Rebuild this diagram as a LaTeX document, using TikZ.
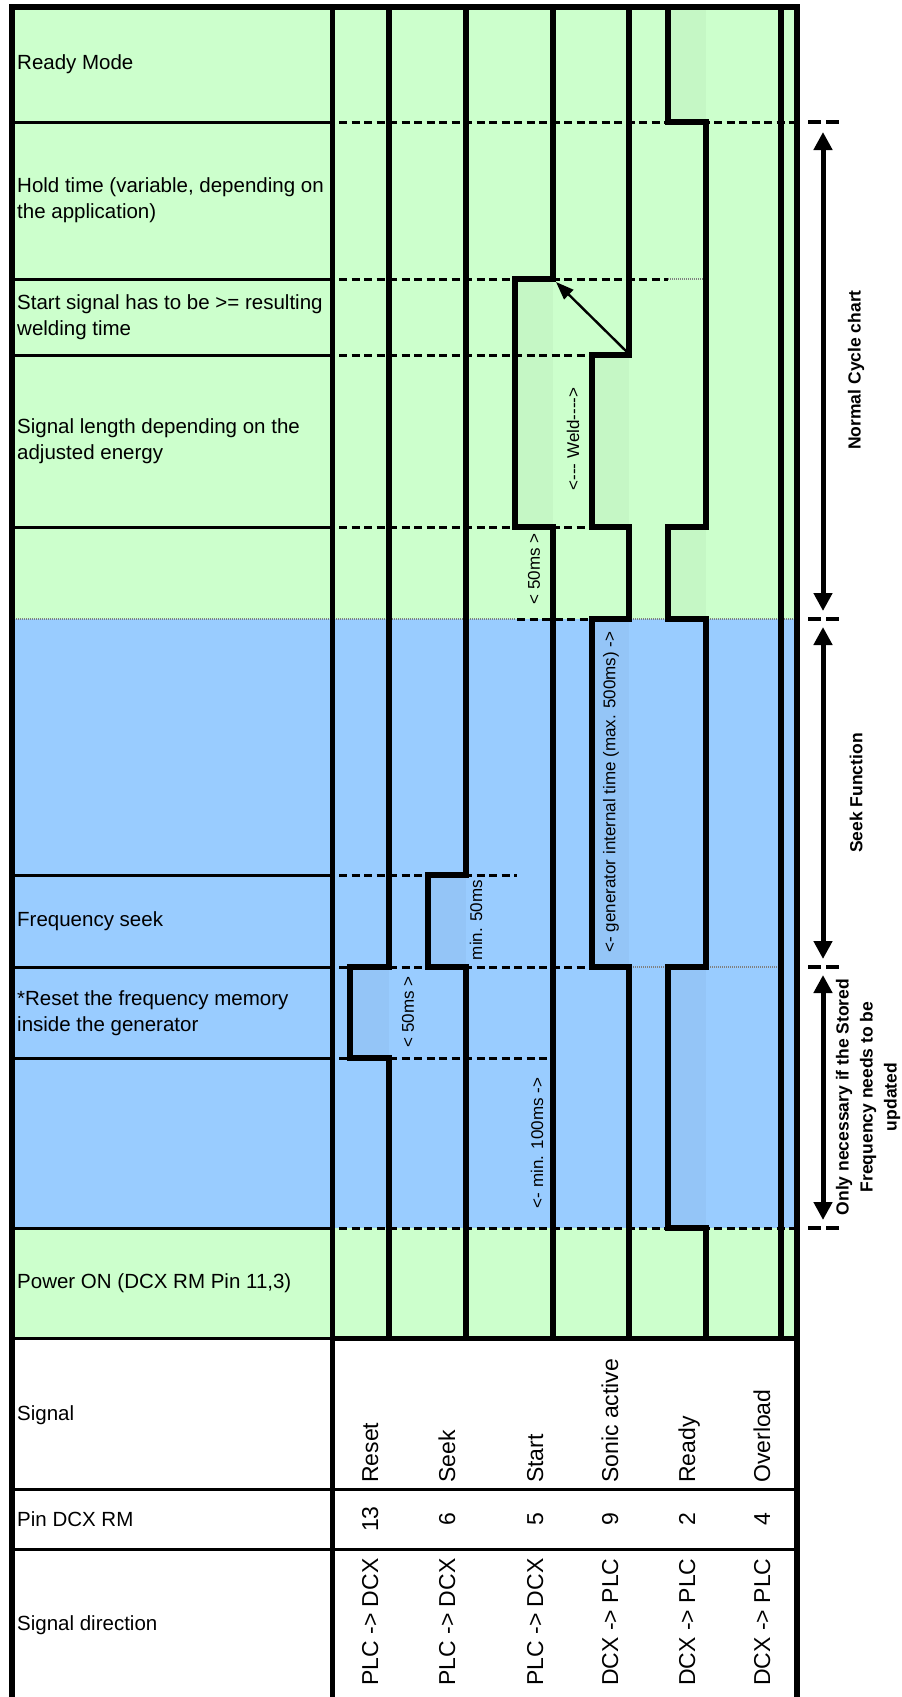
\documentclass[tikz,border=0pt]{standalone}
\usepackage{fontspec}
\newfontfamily\arial{Liberation Sans}
\usetikzlibrary{arrows.meta}
\definecolor{bggreen}{RGB}{204,255,204}
\definecolor{bgblue}{RGB}{153,204,255}
\begin{document}
\begin{tikzpicture}[x=1pt,y=-1pt,
  sigtrace/.style={line width=5.5pt, line join=miter},
  rowline/.style={line width=3pt},
  dashline/.style={line width=3pt, dash pattern=on 8pt off 4.5pt},
  greydot/.style={line width=2pt, gray, dash pattern=on 1.2pt off 0.8pt},
  outdash/.style={line width=4.5pt, dash pattern=on 13pt off 5pt},
  pulsefill/.style={fill=black, fill opacity=0.03},
  border/.style={line width=5.5pt},
  lbl/.style={anchor=west, inner sep=0pt, align=left, font=\arial\fontsize{20.5}{26}\selectfont},
  clbl/.style={rotate=90, inner sep=0pt, font=\arial\fontsize{17}{20}\selectfont},
  blbl/.style={rotate=90, inner sep=0pt, font=\arial\fontsize{23}{28}\selectfont},
  rlbl/.style={rotate=90, inner sep=0pt, align=center, font=\arial\bfseries\fontsize{17.5}{24}\selectfont},
  bigarrow/.style={line width=5pt, {Triangle[length=18pt,width=18pt]}-{Triangle[length=18pt,width=18pt]}},
]
\useasboundingbox (0,0) rectangle (902,1697);
% backgrounds
\fill[white] (0,0) rectangle (902,1697);
\fill[bggreen] (12,7) rectangle (797,619);
\fill[bgblue] (12,619) rectangle (797,1228);
\fill[bggreen] (12,1228) rectangle (797,1338);
% pulse shading
\fill[pulsefill] (350,967) rectangle (389,1058);
\fill[pulsefill] (428,875) rectangle (466,967);
\fill[pulsefill] (515,279) rectangle (553,527);
\fill[pulsefill] (592,355) rectangle (629,527);
\fill[pulsefill] (592,619) rectangle (629,967);
\fill[pulsefill] (668,7) rectangle (706,122);
\fill[pulsefill] (668,527) rectangle (706,619);
\fill[pulsefill] (668,967) rectangle (706,1228);
% grey dotted boundaries
\draw[greydot] (12,619) -- (515,619);
\draw[greydot] (629,619) -- (668,619);
\draw[greydot] (706,619) -- (797,619);
\draw[greydot] (668,279) -- (706,279);
\draw[greydot] (629,967) -- (668,967);
\draw[greydot] (706,967) -- (781,967);
% dashed time lines
\draw[dashline] (339,122) -- (797,122);
\draw[dashline] (339,279) -- (668,279);
\draw[dashline] (339,355) -- (592,355);
\draw[dashline] (339,527) -- (592,527);
\draw[dashline] (517,619) -- (592,619);
\draw[dashline] (339,875) -- (517,875);
\draw[dashline] (339,967) -- (592,967);
\draw[dashline] (339,1058) -- (553,1058);
\draw[dashline] (339,1228) -- (797,1228);
% outside dashes
\draw[outdash] (808,122) -- (840,122);
\draw[outdash] (808,619) -- (840,619);
\draw[outdash] (808,967) -- (840,967);
\draw[outdash] (808,1228) -- (840,1228);
% label column row lines
\foreach \yy in {122,279,355,527,875,967,1058,1228}
  \draw[rowline] (12,\yy) -- (332,\yy);
\draw[rowline] (12,1338) -- (332,1338);
\draw[line width=5pt] (332,1338) -- (797,1338);
\draw[rowline] (12,1489) -- (797,1489);
\draw[rowline] (12,1549) -- (797,1549);
% signal traces
\draw[sigtrace] (389,7) -- (389,967) -- (350,967) -- (350,1058) -- (389,1058) -- (389,1338);
\draw[sigtrace] (466,7) -- (466,875) -- (428,875) -- (428,967) -- (466,967) -- (466,1338);
\draw[sigtrace] (553,7) -- (553,279) -- (515,279) -- (515,527) -- (553,527) -- (553,1338);
\draw[sigtrace] (629,7) -- (629,355) -- (592,355) -- (592,527) -- (629,527) -- (629,619) -- (592,619) -- (592,967) -- (629,967) -- (629,1338);
\draw[sigtrace] (668,7) -- (668,122) -- (706,122) -- (706,527) -- (668,527) -- (668,619) -- (706,619) -- (706,967) -- (668,967) -- (668,1228) -- (706,1228) -- (706,1338);
\draw[sigtrace] (781,7) -- (781,1338);
% borders
\draw[border] (12,1700) -- (12,7) -- (797,7) -- (797,1700);
\draw[line width=5pt] (332,7) -- (332,1700);
% left labels
\node[lbl] (rm) at (17,64) {Ready Mode};
\node[lbl] (ht) at (17,200) {Hold time (variable, depending on\\the application)};
\node[lbl] (ss) at (17,317) {Start signal has to be >= resulting\\welding time};
\node[lbl] (sl) at (17,441) {Signal length depending on the\\adjusted energy};
\node[lbl] (fs) at (17,921) {Frequency seek};
\node[lbl] (rf) at (17,1013) {*Reset the frequency memory\\inside the generator};
\node[lbl] (po) at (17,1283) {Power ON (DCX RM Pin 11,3)};
\node[lbl] (sg) at (17,1415) {Signal};
\node[lbl] (pd) at (17,1519) {Pin DCX RM};
\node[lbl] (sd) at (17,1625) {Signal direction};
% chart labels
\node[clbl] (weld) at (573,439) {<--- Weld---->};
\node[clbl] (fiftya) at (534,569) {< 50ms >};
\node[clbl] (fiftyb) at (408,1012) {< 50ms >};
\node[clbl] (minfifty) at (476,920) {min. 50ms};
\node[clbl] (gen) at (611,792) {<- generator internal time (max. 500ms) ->};
\node[clbl] (minhundred) at (537,1143) {<- min. 100ms ->};
% bottom table
\foreach \xx/\nm/\pin/\dir in {378/Reset/13/PLC -> DCX, 455/Seek/6/PLC -> DCX, 543/Start/5/PLC -> DCX, 618/Sonic active/9/DCX -> PLC, 695/Ready/2/DCX -> PLC, 770/Overload/4/DCX -> PLC}{
  \node[blbl, anchor=base west] (sig\xx) at (\xx,1483) {\nm};
  \node[blbl, anchor=base] (pin\xx) at (\xx,1519) {\pin};
  \node[blbl, anchor=base] (dir\xx) at (\xx,1622) {\dir};
}
% diagonal arrow
\coordinate (sonicA) at (628,353);
\coordinate (startA) at (556,282);
\draw[line width=2.4pt, -{Triangle[length=18pt,width=13pt]}] (sonicA) -- (startA);
% right annotations
\coordinate (ncTop) at (823,132);
\coordinate (ncBot) at (823,611);
\coordinate (sfTop) at (823,627);
\coordinate (sfBot) at (823,959);
\coordinate (onTop) at (823,975);
\coordinate (onBot) at (823,1220);
\draw[bigarrow] (ncTop) -- (ncBot);
\draw[bigarrow] (sfTop) -- (sfBot);
\draw[bigarrow] (onTop) -- (onBot);
\node[rlbl] (nc) at (856,370) {Normal Cycle chart};
\node[rlbl] (sf) at (856,793) {Seek Function};
\node[rlbl] (on) at (868,1097) {Only necessary if the Stored\\Frequency needs to be\\updated};
\end{tikzpicture}
\end{document}
